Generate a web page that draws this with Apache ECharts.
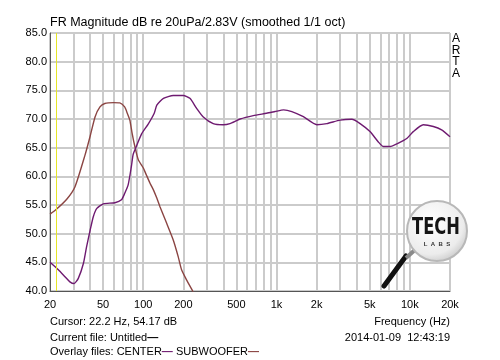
<!DOCTYPE html>
<html><head><meta charset="utf-8">
<script src="https://cdn.jsdelivr.net/npm/echarts@6/dist/echarts.min.js"></script>
<style>html,body{margin:0;padding:0;background:#fff}#c{width:500px;height:360px}</style>
</head><body><div id="c"></div>
<script>
// CENTER (purple) curve
const centerFreq = [20, 23.1, 25.9, 28.2, 30.3, 32.6, 35.6, 37.6, 40, 42.3, 44.9, 50.2, 61.4, 68.7, 72.6, 77.1, 81.5, 84, 86.6, 97.3, 109, 121, 126.5, 141.8, 168, 200, 224, 251, 281, 335, 398, 447, 533, 669, 842, 975, 1130, 1302, 1590, 2005, 2384, 3000, 3672, 4234, 5024, 5802, 6340, 7100, 8200, 9480, 10600, 12600, 15000, 17300, 20000];
const centerDb   = [45.0, 43.7, 42.5, 41.6, 41.3, 42.2, 44.8, 47.7, 50.6, 53.0, 54.4, 55.2, 55.4, 55.9, 57.0, 58.5, 61.7, 63.8, 64.6, 67.4, 69.1, 71.0, 72.4, 73.6, 74.1, 74.1, 73.6, 71.9, 70.4, 69.2, 69.0, 69.2, 70.0, 70.6, 71.0, 71.3, 71.6, 71.3, 70.4, 69.0, 69.2, 69.8, 69.95, 69.2, 67.8, 66.0, 65.2, 65.2, 65.8, 66.6, 67.8, 69.0, 68.7, 68.1, 66.9];
// SUBWOOFER (brown) curve
const subFreq = [20, 22.2, 26.7, 30.8, 36.6, 40, 43.6, 47.4, 51.5, 60, 66.8, 72.6, 76, 79.4, 82.6, 86.6, 91.9, 100, 104, 112.5, 119.5, 126.5, 133.6, 150, 168, 183, 194, 212, 235, 250];
const subDb   = [53.4, 54.2, 56.0, 58.2, 63.7, 67.0, 70.4, 72.1, 72.7, 72.85, 72.8, 72.1, 71.0, 69.8, 67.5, 65.2, 62.9, 61.5, 60.6, 58.8, 57.6, 56.2, 54.7, 51.8, 48.9, 46.0, 43.7, 41.9, 40.0, 38.6];

const xGridValues = [20, 30, 40, 50, 60, 70, 80, 90, 100, 200, 300, 400, 500, 600, 700, 800, 900, 1000, 2000, 3000, 4000, 5000, 6000, 7000, 8000, 9000, 10000, 20000];
const xTickValues = [20, 50, 100, 200, 500, 1000, 2000, 5000, 10000, 20000];
const xTickLabels = ['20', '50', '100', '200', '500', '1k', '2k', '5k', '10k', '20k'];
const yMin = 40, yMax = 85, yStep = 5;
const cursorFreq = 22.2;

const zip = (a, b) => a.map((v, i) => [v, b[i]]);
const FONT = '"Liberation Sans", Arial, sans-serif';
const PURPLE = '#6e1a70', BROWN = '#8b4543';

const chart = echarts.init(document.getElementById('c'), null, {renderer: 'canvas'});
chart.setOption({
  animation: false,
  backgroundColor: '#fff',
  grid: {left: 50, right: 50, top: 33, bottom: 69, show: true, borderColor: '#9a9a9a', borderWidth: 1, containLabel: false, outerBoundsMode: 'none'},
  xAxis: {
    type: 'log', logBase: 10, min: 20, max: 20000,
    axisLine: {show: true, lineStyle: {color: '#555', width: 1}},
    axisTick: {show: false, customValues: xGridValues},
    splitLine: {show: true, lineStyle: {color: '#cbcbcb', width: 2}},
    minorSplitLine: {show: false},
    axisLabel: {
      customValues: xTickValues, fontSize: 11, fontFamily: FONT, color: '#000', margin: 8,
      formatter: v => { const i = xTickValues.findIndex(t => Math.abs(t - v) / t < 1e-4); return i >= 0 ? xTickLabels[i] : ''; }
    }
  },
  yAxis: {
    type: 'value', min: yMin, max: yMax, interval: yStep,
    axisLine: {show: true, lineStyle: {color: '#555', width: 1}},
    axisTick: {show: false},
    splitLine: {show: true, lineStyle: {color: '#cbcbcb', width: 2}},
    axisLabel: {fontSize: 11, fontFamily: FONT, color: '#000', margin: 3, formatter: v => v.toFixed(1)}
  },
  series: [
    {
      name: 'cursor', type: 'line', data: [], silent: true, z: 1,
      markLine: {silent: true, symbol: ['none', 'none'], label: {show: false},
        lineStyle: {color: '#e6e62a', width: 1, type: 'solid'}, data: [{xAxis: cursorFreq}]}
    },
    {name: 'SUBWOOFER', type: 'line', data: zip(subFreq, subDb), smooth: 0.2, showSymbol: false, z: 3,
      lineStyle: {color: BROWN, width: 1.4}, itemStyle: {color: BROWN}},
    {name: 'CENTER', type: 'line', data: zip(centerFreq, centerDb), smooth: 0.2, showSymbol: false, z: 4,
      lineStyle: {color: PURPLE, width: 1.4}, itemStyle: {color: PURPLE}}
  ],
  graphic: [
    {type: 'text', x: 50, y: 23, style: {text: 'FR Magnitude dB re 20uPa/2.83V (smoothed 1/1 oct)', font: '12.5px ' + FONT, fill: '#000', verticalAlign: 'middle'}},
    {type: 'text', x: 456, y: 33, style: {text: 'A\nR\nT\nA', font: '12px ' + FONT, fill: '#000', align: 'center', verticalAlign: 'top', lineHeight: 11.5}},
    {type: 'text', x: 50, y: 322, style: {text: 'Cursor: 22.2 Hz, 54.17 dB', font: '11px ' + FONT, fill: '#000', verticalAlign: 'middle'}},
    {type: 'text', x: 50, y: 338, style: {text: 'Current file: Untitled{k|—}', font: '11px ' + FONT, fill: '#000', verticalAlign: 'middle',
      rich: {k: {fill: '#000', font: 'bold 11px ' + FONT}}}},
    {type: 'text', x: 50, y: 352, style: {text: 'Overlay files: CENTER{p|—} SUBWOOFER{b|—}', font: '11px ' + FONT, fill: '#000', verticalAlign: 'middle',
      rich: {p: {fill: PURPLE, font: 'bold 11px ' + FONT}, b: {fill: BROWN, font: 'bold 11px ' + FONT}}}},
    {type: 'text', x: 450, y: 322, style: {text: 'Frequency (Hz)', font: '11px ' + FONT, fill: '#000', align: 'right', verticalAlign: 'middle'}},
    {type: 'text', x: 450, y: 338, style: {text: '2014-01-09  12:43:19', font: '11px ' + FONT, fill: '#000', align: 'right', verticalAlign: 'middle'}},
    // logo
    {type: 'line', z: 50, shape: {x1: 406, y1: 256, x2: 384, y2: 286}, style: {stroke: '#111', lineWidth: 5, lineCap: 'round'}},
    {type: 'line', z: 50, shape: {x1: 417, y1: 248, x2: 406, y2: 258}, style: {stroke: '#8a8a8a', lineWidth: 4}},
    {type: 'circle', z: 51, shape: {cx: 437, cy: 231, r: 30},
      style: {fill: new echarts.graphic.RadialGradient(0.4, 0.35, 0.75, [{offset: 0, color: '#ffffff'}, {offset: 0.7, color: '#ececec'}, {offset: 1, color: '#bdbdbd'}]),
        stroke: '#b8b8b8', lineWidth: 2}},
    {type: 'text', z: 52, x: 436, y: 228, scaleX: 0.74, scaleY: 1.05, style: {text: 'TECH', font: 'bold 22px "DejaVu Sans", sans-serif', fill: '#151515', align: 'center', verticalAlign: 'middle'}},
    {type: 'text', z: 52, x: 437, y: 244, style: {text: 'L  A  B  S', font: 'bold 6px ' + FONT, fill: '#333', align: 'center', verticalAlign: 'middle'}}
  ]
});
</script></body></html>
